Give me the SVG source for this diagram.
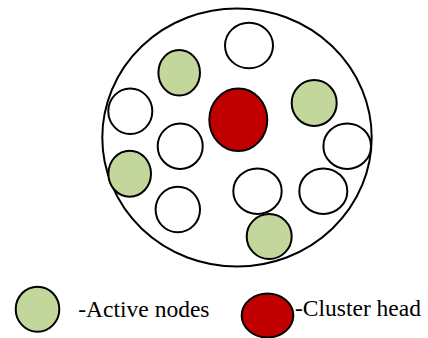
<svg xmlns="http://www.w3.org/2000/svg" width="428" height="338" viewBox="0 0 428 338">
  <style>
    .ring { fill: none; stroke: #000; stroke-width: 2; }
    .node { stroke: #000; stroke-width: 2; }
    .idle { fill: #fff; }
    .active { fill: #C3D69B; }
    .head { fill: #C00000; }
    .label { font-family: "Liberation Serif", "Times New Roman", serif; font-size: 23.5px; fill: #000; }
  </style>
  <rect width="428" height="338" fill="#fff"/>

  <!-- cluster boundary -->
  <g id="cluster">
    <ellipse class="ring" cx="237" cy="137.5" rx="134.7" ry="129"/>
  </g>

  <!-- sensor nodes -->
  <g id="node-top"><ellipse class="node idle" cx="249" cy="45.5" rx="24" ry="22.8"/></g>
  <g id="node-a1"><ellipse class="node active" cx="179.2" cy="72.8" rx="20.8" ry="22.8"/></g>
  <g id="node-left"><ellipse class="node idle" cx="130.3" cy="111.2" rx="22" ry="22.8"/></g>
  <g id="cluster-head"><ellipse class="node head" cx="238.3" cy="119.7" rx="29" ry="31.3"/></g>
  <g id="node-a2"><ellipse class="node active" cx="314.2" cy="103" rx="22.5" ry="23"/></g>
  <g id="node-mid-left"><ellipse class="node idle" cx="180.2" cy="146.2" rx="22.5" ry="22.8"/></g>
  <g id="node-right"><ellipse class="node idle" cx="347.2" cy="146.2" rx="23.8" ry="22.8"/></g>
  <g id="node-a3"><ellipse class="node active" cx="129.7" cy="173.7" rx="21.3" ry="23"/></g>
  <g id="node-low-left"><ellipse class="node idle" cx="177.8" cy="209.5" rx="22.2" ry="22.8"/></g>
  <g id="node-low-mid"><ellipse class="node idle" cx="257.5" cy="191.2" rx="24.2" ry="22.8"/></g>
  <g id="node-low-right"><ellipse class="node idle" cx="323.3" cy="191.2" rx="24" ry="22.8"/></g>
  <g id="node-a4"><ellipse class="node active" cx="269.2" cy="236.5" rx="22.5" ry="22.5"/></g>

  <!-- legend -->
  <g id="legend-active">
    <ellipse class="node active" cx="37.5" cy="309.2" rx="21.8" ry="22.5"/>
    <text class="label" x="78.3" y="316.7">-Active nodes</text>
  </g>
  <g id="legend-head">
    <ellipse class="node head" cx="267.5" cy="315.5" rx="25.8" ry="22"/>
    <text class="label" x="295" y="316.2">-Cluster head</text>
  </g>
</svg>
